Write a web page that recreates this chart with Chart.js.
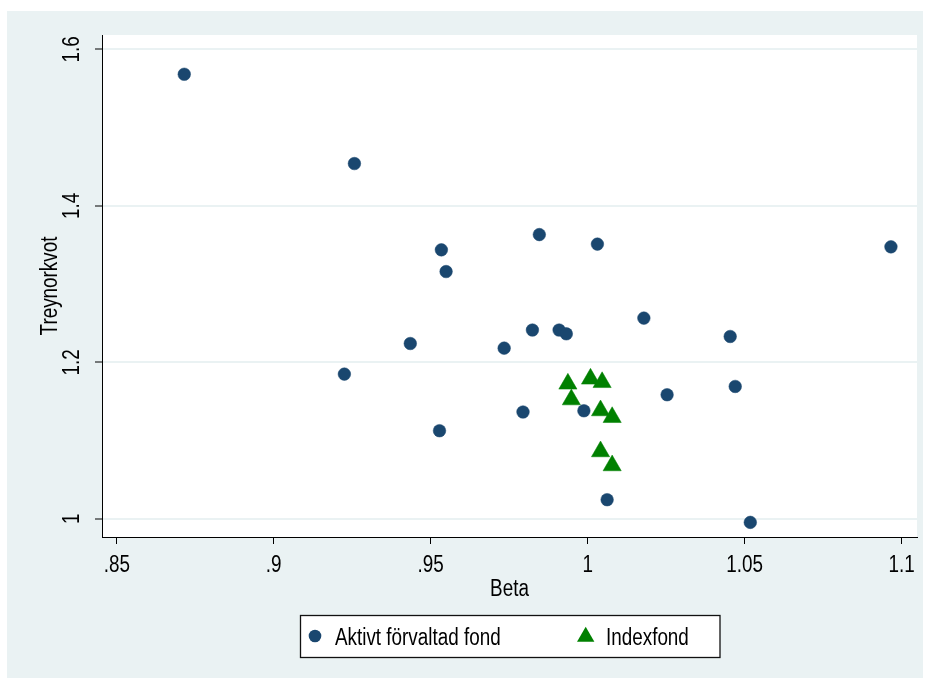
<!DOCTYPE html>
<html><head><meta charset="utf-8">
<script src="https://cdn.jsdelivr.net/npm/chart.js@4.4.0/dist/chart.umd.min.js"></script>
<style>html,body{margin:0;padding:0;background:#fff;}#wrap{width:928px;height:682px;}</style>
</head><body><div id="wrap"><canvas id="c" width="928" height="682"></canvas></div>
<script>
// ---- data ----
const activeBeta    = [0.8715,0.9257,0.9534,0.9549,0.9846,1.0031,1.0966,1.0179,1.0454,0.9824,0.9909,0.9932,0.9435,0.9734,0.9225,1.0253,1.0470,0.9794,0.9988,0.9528,1.0062,1.0518];
const activeTreynor = [1.5683,1.4541,1.3438,1.3160,1.3633,1.3511,1.3476,1.2565,1.2330,1.2412,1.2412,1.2364,1.2240,1.2181,1.1849,1.1585,1.1691,1.1364,1.1380,1.1125,1.0243,0.9953];
const indexBeta     = [0.9937,1.0009,1.0046,0.9948,1.0041,1.0078,1.0041,1.0078];
const indexTreynor  = [1.1724,1.1788,1.1744,1.1523,1.1383,1.1297,1.0859,1.0680];
const xTicks = [0.85,0.9,0.95,1,1.05,1.1];
const xTickLabels = ['.85','.9','.95','1','1.05','1.1'];
const yTicks = [1,1.2,1.4,1.6];
const yTickLabels = ['1','1.2','1.4','1.6'];
const seriesNames = ['Aktivt förvaltad fond','Indexfond'];
const xTitle = 'Beta';
const yTitle = 'Treynorkvot';

const FONT = '"Liberation Sans",Arial,sans-serif';
const FS = 23;
const NARROW = 0.82; // condensed text like the reference
const NAVY = '#1A476F', GREEN = '#008000', BG = '#EAF2F3';
Chart.defaults.font.family = FONT;
Chart.defaults.font.size = FS;
Chart.defaults.color = '#000';

const canvas = document.getElementById('c');
const c2d = canvas.getContext('2d');
const origFill = c2d.fillText.bind(c2d);
const origMeasure = c2d.measureText.bind(c2d);
c2d.fillText = function (t, x, y, mw) {
  this.save(); this.translate(x, y); this.scale(NARROW, 1); origFill(t, 0, 0); this.restore();
};
c2d.measureText = function (t) {
  const m = origMeasure(t);
  return { width: m.width * NARROW,
    actualBoundingBoxAscent: m.actualBoundingBoxAscent, actualBoundingBoxDescent: m.actualBoundingBoxDescent,
    actualBoundingBoxLeft: m.actualBoundingBoxLeft * NARROW, actualBoundingBoxRight: m.actualBoundingBoxRight * NARROW,
    fontBoundingBoxAscent: m.fontBoundingBoxAscent, fontBoundingBoxDescent: m.fontBoundingBoxDescent };
};

const bgPlugin = {
  id: 'bg',
  beforeDraw(chart) {
    const {ctx, chartArea: a} = chart;
    ctx.save();
    ctx.fillStyle = '#fff';
    ctx.fillRect(0, 0, chart.width, chart.height);
    ctx.fillStyle = BG;
    ctx.fillRect(7, 11, 916, 667);
    ctx.fillStyle = '#fff';
    ctx.fillRect(a.left, a.top, a.right - a.left, a.bottom - a.top);
    ctx.restore();
  },
  afterDraw(chart) {
    const {ctx, chartArea: a} = chart;
    ctx.save();
    ctx.fillStyle = '#000';
    ctx.font = FS + 'px ' + FONT;
    ctx.textAlign = 'center';
    ctx.textBaseline = 'middle';
    ctx.fillText(xTitle, (a.left + a.right) / 2, 590);
    ctx.save();
    ctx.translate(51, (a.top + a.bottom) / 2);
    ctx.rotate(-Math.PI / 2);
    ctx.fillText(yTitle, 0, 0);
    ctx.restore();
    // legend
    ctx.fillStyle = '#fff';
    ctx.fillRect(300.5, 615.5, 419.5, 42);
    ctx.strokeStyle = '#111';
    ctx.lineWidth = 1.3;
    ctx.strokeRect(300.5, 615.5, 419.5, 42);
    ctx.fillStyle = NAVY;
    ctx.beginPath(); ctx.arc(315, 636, 6.3, 0, Math.PI * 2); ctx.fill();
    ctx.fillStyle = GREEN;
    const r = 10, cx = 585.7, cy = 636.7;
    ctx.beginPath();
    for (let k = 0; k < 3; k++) {
      const ang = k * 2 * Math.PI / 3;
      const px = cx + Math.sin(ang) * r, py = cy - Math.cos(ang) * r;
      k ? ctx.lineTo(px, py) : ctx.moveTo(px, py);
    }
    ctx.closePath(); ctx.fill();
    ctx.fillStyle = '#000';
    ctx.textAlign = 'left';
    ctx.textBaseline = 'alphabetic';
    ctx.fillText(seriesNames[0], 335, 645);
    ctx.fillText(seriesNames[1], 606, 645);
    ctx.restore();
  }
};

new Chart(canvas, {
  type: 'scatter',
  data: {
    datasets: [
      { label: seriesNames[0], data: activeBeta.map((b, i) => ({x: b, y: activeTreynor[i]})),
        pointStyle: 'circle', pointRadius: 6.3, pointHoverRadius: 6.3,
        backgroundColor: NAVY, borderColor: NAVY, borderWidth: 0.5 },
      { label: seriesNames[1], data: indexBeta.map((b, i) => ({x: b, y: indexTreynor[i]})),
        pointStyle: 'triangle', pointRadius: 10.5, pointHoverRadius: 10.5,
        backgroundColor: GREEN, borderColor: GREEN, borderWidth: 0.5 }
    ]
  },
  options: {
    responsive: false, animation: false, devicePixelRatio: 1,
    layout: { padding: { left: 0, top: 35, right: 9, bottom: 0 } },
    plugins: { legend: { display: false }, tooltip: { enabled: false } },
    scales: {
      x: {
        type: 'linear', position: 'bottom', min: 0.8453, max: 1.1049,
        afterBuildTicks: s => { s.ticks = xTicks.map(v => ({value: v})); },
        afterFit: s => { s.height = 145; },
        ticks: { callback: (v, i) => xTickLabels[i], padding: 8, maxRotation: 0, minRotation: 0, autoSkip: false },
        grid: { drawOnChartArea: false, drawTicks: true, tickLength: 7, tickColor: '#000', tickWidth: 1 },
        border: { display: true, color: '#000', width: 1 }
      },
      y: {
        type: 'linear', position: 'left', min: 0.9766, max: 1.6185,
        afterBuildTicks: s => { s.ticks = yTicks.map(v => ({value: v})); },
        afterFit: s => { s.width = 102; },
        ticks: { callback: (v, i) => yTickLabels[i], minRotation: 90, maxRotation: 90, crossAlign: 'center', padding: 9, autoSkip: false },
        grid: { color: BG, lineWidth: 2, drawOnChartArea: true, drawTicks: true, tickLength: 7, tickColor: '#000', tickWidth: 1 },
        border: { display: true, color: '#000', width: 1 }
      }
    }
  },
  plugins: [bgPlugin]
});
</script></body></html>
